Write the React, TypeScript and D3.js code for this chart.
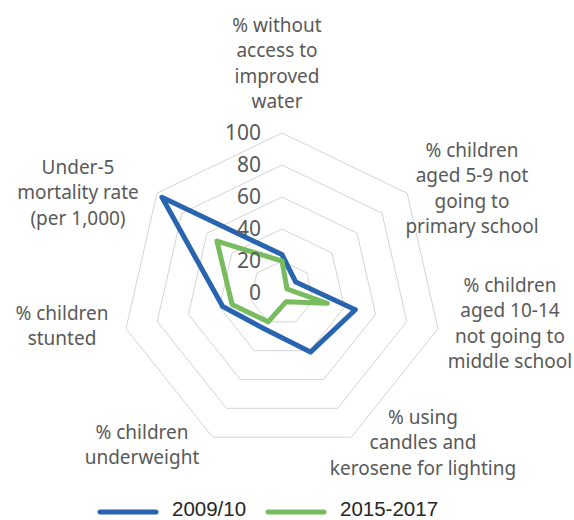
import React from "react";
import * as d3 from "d3";

const categories: string[][] = [
  ["% without", "access to", "improved", "water"],
  ["% children", "aged 5-9 not", "going to", "primary school"],
  ["% children", "aged 10-14", "not going to", "middle school"],
  ["% using", "candles and", "kerosene for lighting"],
  ["% children", "underweight"],
  ["% children", "stunted"],
  ["Under-5", "mortality rate", "(per 1,000)"],
];
const series2009 = [24, 11, 47, 41, 25, 38, 96];
const series2015 = [20, 4, 29, 6, 20, 32, 52];
const ticks = [0, 20, 40, 60, 80, 100];
const seriesNames = ["2009/10", "2015-2017"];
const colors = ["#2864b0", "#78bc5f"];

// label anchor (center x, first line center y)
const labelPos: [number, number][] = [
  [277, 25],
  [472, 150],
  [510, 285],
  [423, 417],
  [142, 432],
  [62, 313],
  [78, 167],
];

export default function App() {
  const cx = 282;
  const cy = 293;
  const r = d3.scaleLinear().domain([0, 100]).range([0, 160]);
  const n = categories.length;
  const angle = (i: number) => (i * 2 * Math.PI) / n;
  const pt = (i: number, v: number): [number, number] => [
    cx + r(v) * Math.sin(angle(i)),
    cy - r(v) * Math.cos(angle(i)),
  ];
  const poly = (vals: number[]) =>
    d3.line()(vals.map((v, i) => pt(i, v)))! + "Z";
  const lh = 25.5;
  return (
    <svg
      width={574}
      height={520}
      style={{ position: "absolute", left: 0, top: 0, background: "#fff" }}
      fontFamily="'Noto Sans', sans-serif"
    >
      {ticks.slice(1).map((t) => (
        <path
          key={"g" + t}
          d={poly(categories.map(() => t))}
          fill="none"
          stroke="#d4d4d4"
          strokeWidth={1}
        />
      ))}
      {[series2009, series2015].map((s, k) => (
        <path
          key={"s" + k}
          d={poly(s)}
          fill="none"
          stroke={colors[k]}
          strokeWidth={5}
          strokeLinejoin="round"
        />
      ))}
      {ticks.map((t) => (
        <text
          key={"t" + t}
          x={cx - 21}
          y={cy - r(t)}
          dy="0.35em"
          textAnchor="end"
          fontSize={21}
          fill="#595959"
        >
          {t}
        </text>
      ))}
      {categories.map((lines, i) => (
        <text
          key={"c" + i}
          textAnchor="middle"
          fontSize={19}
          fill="#595959"
        >
          {lines.map((l, j) => (
            <tspan
              key={j}
              x={labelPos[i][0]}
              y={labelPos[i][1] + j * lh}
              dy="0.35em"
            >
              {l}
            </tspan>
          ))}
        </text>
      ))}
      {seriesNames.map((name, k) => {
        const x0 = k === 0 ? 100 : 268;
        return (
          <g key={"l" + k}>
            <line
              x1={x0}
              x2={x0 + 56}
              y1={512}
              y2={512}
              stroke={colors[k]}
              strokeWidth={5}
              strokeLinecap="round"
            />
            <text
              x={x0 + 72}
              y={508.5}
              dy="0.35em"
              fontSize={20.5}
              fill="#262626"
              fontFamily="'Liberation Sans', Arial, sans-serif"
            >
              {name}
            </text>
          </g>
        );
      })}
    </svg>
  );
}
